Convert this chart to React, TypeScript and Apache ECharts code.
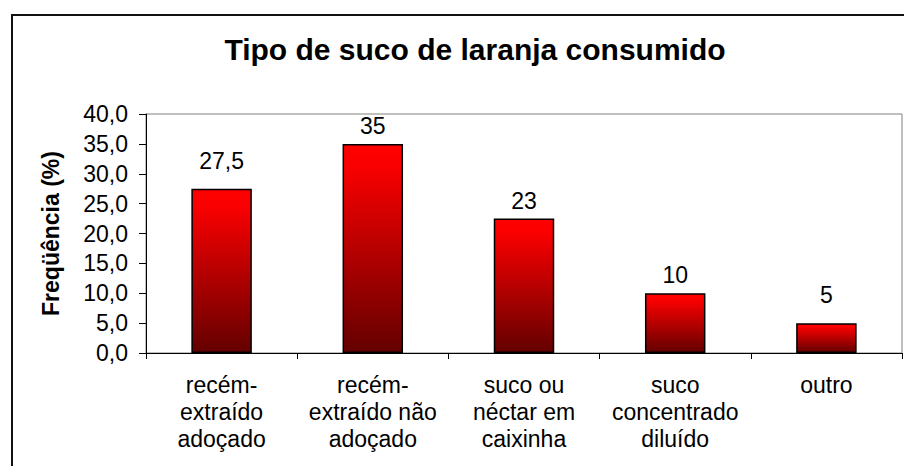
import React, { useEffect, useRef } from "react";
import * as echarts from "echarts";

const categories = [
  "recém-\nextraído\nadoçado",
  "recém-\nextraído não\nadoçado",
  "suco ou\nnéctar em\ncaixinha",
  "suco\nconcentrado\ndiluído",
  "outro",
];
const values = [27.5, 35, 22.5, 10, 5];
const valueLabels = ["27,5", "35", "23", "10", "5"];
const yTickLabels = ["0,0", "5,0", "10,0", "15,0", "20,0", "25,0", "30,0", "35,0", "40,0"];

const titleText = "Tipo de suco de laranja consumido";
const yAxisName = "Freqüência (%)";

// label gaps above bars (style, not data)
const labelGaps = [16, 6, 6, 7, 17];

const FONT = "'Liberation Sans', Arial, sans-serif";

export default function App() {
  const ref = useRef<HTMLDivElement>(null);
  useEffect(() => {
    if (!ref.current) return;
    const chart = echarts.init(ref.current, undefined, { renderer: "svg" });
    const barColor = new echarts.graphic.LinearGradient(0, 0, 0, 1, [
      { offset: 0, color: "#ff0000" },
      { offset: 0.1, color: "#fa0000" },
      { offset: 1, color: "#640000" },
    ]);
    chart.setOption({
      animation: false,
      backgroundColor: "#ffffff",
      title: {
        text: titleText,
        left: 470,
        top: 29,
        textAlign: "center",
        textStyle: { fontFamily: FONT, fontSize: 30, fontWeight: "bold", color: "#000" },
      },
      graphic: [
        {
          type: "rect",
          shape: { x: 12, y: 15, width: 1000, height: 1000 },
          style: { fill: "none", stroke: "#111", lineWidth: 2 },
          silent: true,
        },
      ],
      grid: {
        left: 146,
        right: 2,
        top: 114,
        bottom: 113,
        show: true,
        borderColor: "#808080",
        borderWidth: 1,
        backgroundColor: "transparent",
      },
      xAxis: {
        type: "category",
        data: categories,
        axisLine: { show: true, lineStyle: { color: "#000", width: 1 } },
        axisTick: { show: true, length: 6, lineStyle: { color: "#000" } },
        axisLabel: {
          interval: 0,
          margin: 18,
          fontFamily: FONT,
          fontSize: 23,
          lineHeight: 27,
          color: "#000",
        },
        z: 5,
      },
      yAxis: {
        type: "value",
        min: 0,
        max: 40,
        interval: 5,
        name: yAxisName,
        nameLocation: "middle",
        nameRotate: 90,
        nameGap: 84,
        nameTextStyle: { fontFamily: FONT, fontSize: 23, fontWeight: "bold", color: "#000" },
        axisLine: { show: true, lineStyle: { color: "#000", width: 1 } },
        axisTick: { show: true, length: 7, lineStyle: { color: "#000" } },
        splitLine: { show: false },
        axisLabel: {
          margin: 18,
          fontFamily: FONT,
          fontSize: 23,
          color: "#000",
          formatter: (v: number) => yTickLabels[Math.round(v / 5)],
        },
        z: 5,
      },
      series: [
        {
          type: "bar",
          barCategoryGap: "60%",
          data: values.map((v, i) => ({
            value: v,
            label: { distance: labelGaps[i] },
          })),
          itemStyle: { color: barColor, borderColor: "#000", borderWidth: 1.5 },
          label: {
            show: true,
            position: "top",
            fontFamily: FONT,
            fontSize: 23,
            color: "#000",
            formatter: (p: any) => valueLabels[p.dataIndex],
          },
        },
      ],
    });
    return () => chart.dispose();
  }, []);
  return (
    <div
      ref={ref}
      style={{ position: "absolute", left: 0, top: 0, width: 904, height: 466 }}
    />
  );
}
